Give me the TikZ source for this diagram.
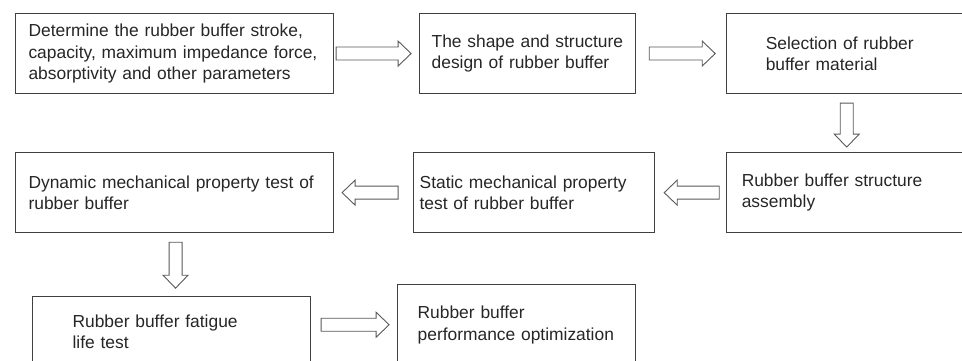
\documentclass[tikz,border=0pt]{standalone}
\usepackage{fontspec}
\setmainfont{Liberation Sans}
\usepackage{tikz}
\usetikzlibrary{positioning,calc}

\definecolor{boxline}{HTML}{404040}
\definecolor{arrowline}{HTML}{595959}
\definecolor{stagetext}{HTML}{262626}

\begin{document}
\begin{tikzpicture}[x=1pt,y=1pt,line join=miter,
                    stage/.style={draw=boxline,line width=1.1pt,minimum height=80pt,
                      inner xsep=0pt,inner ysep=0pt,align=left,text=stagetext,
                      font=\fontsize{17.4}{21.5}\selectfont},
                    lpad/.style={execute at begin node={\leftskip=#1pt}},
                    hollow/.style={draw=arrowline,line width=0.9pt,fill=white,
                      to path={($(\tikztostart)!6.5pt!90:(\tikztotarget)$)
                        -- ($(\tikztotarget)!13pt!(\tikztostart)!6.5pt!90:(\tikztotarget)$)
                        -- ($(\tikztotarget)!13pt!(\tikztostart)!12.5pt!90:(\tikztotarget)$)
                        -- (\tikztotarget)
                        -- ($(\tikztotarget)!13pt!(\tikztostart)!12.5pt!-90:(\tikztotarget)$)
                        -- ($(\tikztotarget)!13pt!(\tikztostart)!6.5pt!-90:(\tikztotarget)$)
                        -- ($(\tikztostart)!6.5pt!-90:(\tikztotarget)$) -- cycle}}]
  \useasboundingbox (0,0) rectangle (962,-361);
  \clip (0,0) rectangle (962,-361);

  \node[stage,text width=318pt,lpad=13,anchor=north west] (determine) at (15,-13)
        {Determine the rubber buffer stroke,\\capacity, maximum impedance force,\\absorptivity and other parameters};
  \node[stage,text width=216pt,lpad=12] (design)   [right=85pt of determine]
        {The shape and structure\\design of rubber buffer};
  \node[stage,text width=240pt,lpad=39] (material) [right=90pt of design]
        {Selection of rubber\\buffer material};
  \node[stage,text width=240pt,lpad=15] (assembly) [below=58pt of material]
        {Rubber buffer structure\\assembly};
  \node[stage,text width=241pt,lpad=6]  (static)   [left=71pt of assembly]
        {Static mechanical property\\test of rubber buffer};
  \node[stage,text width=318pt,lpad=13] (dynamic)  [left=79pt of static]
        {Dynamic mechanical property test of\\rubber buffer};
  \node[stage,text width=278pt,lpad=40,minimum height=70pt] (fatigue) [below=63pt of dynamic,xshift=-3pt]
        {Rubber buffer fatigue\\life test};
  \node[stage,text width=238pt,lpad=20] (optimize) [right=86pt of fatigue,yshift=7pt]
        {Rubber buffer\\performance optimization};

  \path ([xshift=2pt]determine.east) edge[hollow] ([xshift=-8pt]design.west)
        ([xshift=13pt]design.east) edge[hollow] ([xshift=-11pt]material.west)
        ([yshift=-9pt]material.south) edge[hollow] ([yshift=5pt]assembly.north)
        ([xshift=-7pt]assembly.west) edge[hollow] ([xshift=9pt]static.east)
        ([xshift=-15pt]static.west) edge[hollow] ([xshift=8pt]dynamic.east)
        ($(dynamic.south)+(1pt,-9pt)$) edge[hollow] ($(dynamic.south |- fatigue.north)+(1pt,8pt)$)
        ($(fatigue.east |- optimize.west)+(10pt,0)$) edge[hollow] ([xshift=-8pt]optimize.west)
  ; %end path

\end{tikzpicture}
\end{document}
